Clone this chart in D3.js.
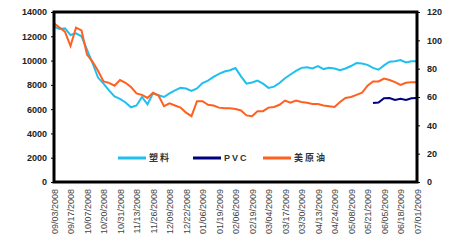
<!DOCTYPE html>
<html>
<head>
<meta charset="utf-8">
<script src="https://cdn.jsdelivr.net/npm/d3@7"></script>
<style>
  body { margin: 0; background: #fff; }
  text { font-family: "Liberation Sans", Arial, sans-serif; }
</style>
</head>
<body>
<script>
// tick labels on the date axis (one every 3 samples)
var dateLabels = ["09/03/2008", "09/17/2008", "10/07/2008", "10/20/2008", "10/31/2008", "11/13/2008",
  "11/26/2008", "12/09/2008", "12/22/2008", "01/06/2009", "01/19/2009", "02/06/2009", "02/19/2009",
  "03/04/2009", "03/17/2009", "03/30/2009", "04/13/2009", "04/24/2009", "05/08/2009", "05/21/2009",
  "06/05/2009", "06/18/2009", "07/01/2009"];

var seriesNames = ["塑料", "PVC", "美原油"];

// 塑料 (left axis)
var plastic = [12800, 12600, 12650, 12100, 12250, 12000, 10900, 9800, 8600, 8100, 7550, 7050, 6850,
  6550, 6150, 6300, 7000, 6400, 7300, 7150, 7000, 7300, 7550, 7750, 7700, 7500, 7700, 8150, 8350,
  8650, 8900, 9100, 9200, 9380, 8700, 8100, 8200, 8350, 8100, 7750, 7850, 8150, 8550, 8850, 9150,
  9400, 9450, 9350, 9550, 9300, 9400, 9350, 9200, 9350, 9550, 9800, 9750, 9650, 9400, 9250, 9600,
  9900, 9950, 10050, 9850, 9950, 9950];

// PVC (left axis), only the last weeks
var pvc = [null, null, null, null, null, null, null, null, null, null, null, null, null, null, null,
  null, null, null, null, null, null, null, null, null, null, null, null, null, null, null, null,
  null, null, null, null, null, null, null, null, null, null, null, null, null, null, null, null,
  null, null, null, null, null, null, null, null, null, null, null, 6500, 6550, 6900, 6920, 6750,
  6850, 6750, 6900, 6920];

// 美原油 (right axis)
var crude = [112, 109, 106, 96, 109, 107, 90, 85, 78.5, 71, 70, 68, 72, 70, 67, 62.5, 61.5, 59.3,
  63, 61, 53.5, 55.5, 54, 52.5, 49, 46.5, 57, 57, 54.5, 54, 52.5, 52, 52, 51.5, 50.5, 47, 46.5, 50,
  50, 52.5, 53, 54.5, 57.5, 56, 57.5, 56.5, 56, 55, 55, 54, 53.5, 53, 56.5, 59.3, 60, 61.5, 63, 68,
  71, 71, 73, 72, 70.5, 68.5, 70, 70.5, 70.5];

var leftTicks = [0, 2000, 4000, 6000, 8000, 10000, 12000, 14000];
var rightTicks = [0, 20, 40, 60, 80, 100, 120];

var colors = ["#1fc0f0", "#000080", "#ff6020"];

var svg = d3.select("body").append("svg")
  .attr("width", 450)
  .attr("height", 250);

var x = d3.scaleLinear().domain([0, plastic.length - 1]).range([54, 417]);
var yL = d3.scaleLinear().domain([0, 14000]).range([182, 12]);
var yR = d3.scaleLinear().domain([0, 120]).range([182, 12]);

// left axis
var gL = svg.append("g").attr("transform", "translate(54,0)")
  .call(d3.axisLeft(yL).tickValues(leftTicks).tickSize(3).tickPadding(4).tickFormat(d3.format("d")));
gL.select(".domain").remove();
gL.selectAll("text").style("font-size", "9px").style("font-weight", "bold").attr("fill", "#222");

// right axis
var gR = svg.append("g").attr("transform", "translate(417,0)")
  .call(d3.axisRight(yR).tickValues(rightTicks).tickSize(3).tickPadding(7));
gR.select(".domain").remove();
gR.selectAll("text").style("font-size", "9px").style("font-weight", "bold").attr("fill", "#222");

// date labels
var labelIdx = dateLabels.map(function (d, i) { return i * 3; });
var gB = svg.append("g").attr("transform", "translate(0,182)")
  .call(d3.axisBottom(x).tickValues(labelIdx).tickSize(0)
    .tickFormat(function (d, i) { return dateLabels[i]; }));
gB.select(".domain").remove();
gB.selectAll("text")
  .style("font-size", "9px")
  .attr("fill", "#444")
  .attr("text-anchor", "end")
  .attr("transform", "rotate(-90)")
  .attr("x", -7)
  .attr("y", 0)
  .attr("dy", "0.35em");

// lines
var lineL = d3.line()
  .defined(function (d) { return d != null; })
  .x(function (d, i) { return x(i); })
  .y(function (d) { return yL(d); });
var lineR = d3.line()
  .x(function (d, i) { return x(i); })
  .y(function (d) { return yR(d); });

svg.append("path").datum(plastic).attr("d", lineL)
  .attr("fill", "none").attr("stroke", colors[0]).attr("stroke-width", 2);
svg.append("path").datum(crude).attr("d", lineR)
  .attr("fill", "none").attr("stroke", colors[2]).attr("stroke-width", 2);
svg.append("path").datum(pvc).attr("d", lineL)
  .attr("fill", "none").attr("stroke", colors[1]).attr("stroke-width", 2);

// frame
svg.append("rect")
  .attr("x", 54).attr("y", 12).attr("width", 363).attr("height", 170)
  .attr("fill", "none").attr("stroke", "#000").attr("stroke-width", 3);

// legend
var legX = [118, 193, 263];
var leg = svg.selectAll("g.leg").data(seriesNames).enter().append("g")
  .attr("class", "leg")
  .attr("transform", function (d, i) { return "translate(" + legX[i] + ",158)"; });
leg.append("line").attr("x1", 0).attr("x2", 28).attr("y1", 0).attr("y2", 0)
  .attr("stroke", function (d, i) { return colors[i]; }).attr("stroke-width", 3);
leg.append("text").attr("x", 31).attr("y", 0).attr("dy", "0.35em")
  .style("font-size", "9px").style("font-weight", "bold").attr("fill", "#333")
  .style("letter-spacing", "2px")
  .style("font-family", function (d, i) { return i === 1 ? "'Liberation Sans', Arial" : "'Noto Sans CJK SC', sans-serif"; })
  .text(function (d) { return d; });
</script>
</body>
</html>
